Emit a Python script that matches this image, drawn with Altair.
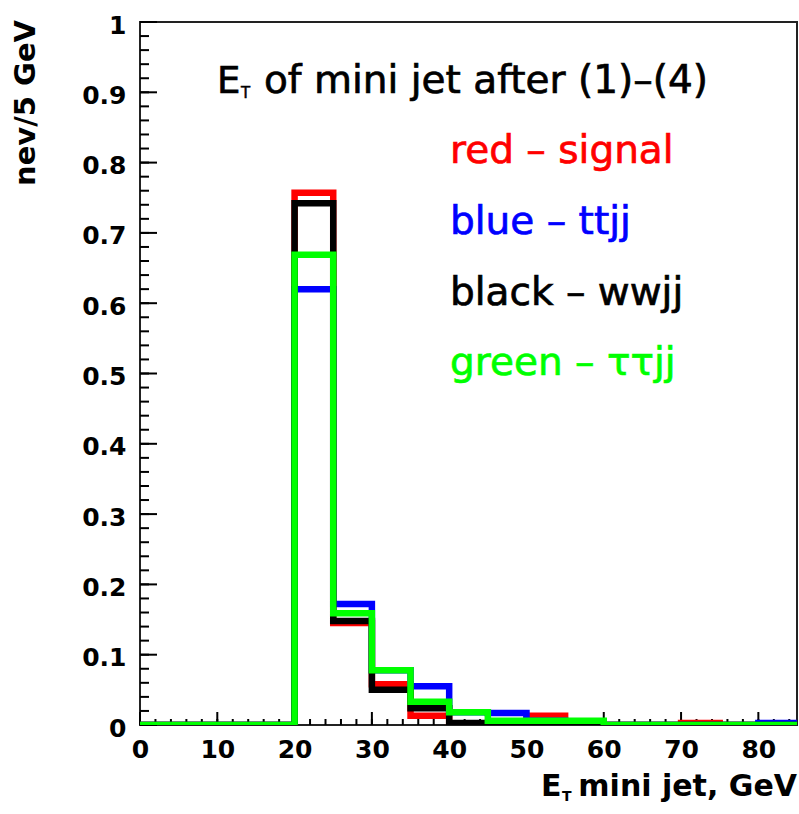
import altair as alt
import pandas as pd

# Histogram bins: 5 GeV wide, left edges 0..80 plus the closing edge at 85
bin_edges = [0, 5, 10, 15, 20, 25, 30, 35, 40, 45, 50, 55, 60, 65, 70, 75, 80, 85]

# Normalised event counts per bin
signal = [0, 0, 0, 0, 0.757, 0.145, 0.058, 0.013, 0.002, 0.003, 0.013, 0, 0, 0, 0.003, 0, 0]
ttjj = [0, 0, 0, 0, 0.620, 0.172, 0.078, 0.055, 0.018, 0.017, 0.006, 0, 0, 0, 0, 0, 0.003]
wwjj = [0, 0, 0, 0, 0.742, 0.148, 0.050, 0.024, 0.003, 0.002, 0.001, 0.002, 0, 0, 0, 0, 0]
tautaujj = [0, 0, 0, 0, 0.669, 0.159, 0.078, 0.033, 0.018, 0.006, 0.006, 0.006, 0, 0, 0, 0, 0]

series = [("signal", signal, "#ff0000"),
          ("ttjj", ttjj, "#0000ff"),
          ("wwjj", wwjj, "#000000"),
          ("tautaujj", tautaujj, "#00ff00")]

legend_labels = ["red \u2013 signal", "blue \u2013 ttjj", "black \u2013 wwjj", "green \u2013 \u03c4\u03c4jj"]
legend_colors = ["#ff0000", "#0000ff", "#000000", "#00ff00"]

x_labels = [0, 10, 20, 30, 40, 50, 60, 70, 80]
y_labels = [0, 0.1, 0.2, 0.3, 0.4, 0.5, 0.6, 0.7, 0.8, 0.9, 1.0]
x_minor = [v for v in range(0, 86, 2)]
y_minor = [i / 50 for i in range(51)]

W, H = 657, 703
FONT = "DejaVu Sans"

x_scale = alt.Scale(domain=[0, 85], nice=False, zero=False)
y_scale = alt.Scale(domain=[0, 1], nice=False)

x_axis = alt.Axis(values=x_labels, ticks=False, domain=False, grid=False, title=None,
                  labelFont=FONT, labelFontWeight="bold", labelFontSize=25,
                  labelColor="black", labelPadding=12, labelFlush=False)
y_axis = alt.Axis(values=y_labels, ticks=False, domain=False, grid=False, title=None,
                  format="~g", labelFont=FONT, labelFontWeight="bold", labelFontSize=25,
                  labelColor="black", labelPadding=14, labelOffset=3)


def X(field):
    return alt.X(field, type="quantitative", scale=x_scale, axis=x_axis)


def Y(field):
    return alt.Y(field, type="quantitative", scale=y_scale, axis=y_axis)


layers = []

# inward tick marks on the left and bottom edges
yt_major = alt.Chart(pd.DataFrame({"v": y_labels})).mark_rule(color="black", strokeWidth=2).encode(
    y=Y("v"), x=alt.value(0), x2=alt.value(17))
yt_minor = alt.Chart(pd.DataFrame({"v": y_minor})).mark_rule(color="black", strokeWidth=2).encode(
    y=Y("v"), x=alt.value(0), x2=alt.value(9))
xt_major = alt.Chart(pd.DataFrame({"v": x_labels})).mark_rule(color="black", strokeWidth=2).encode(
    x=X("v"), y=alt.value(H), y2=alt.value(H - 13))
xt_minor = alt.Chart(pd.DataFrame({"v": x_minor})).mark_rule(color="black", strokeWidth=2).encode(
    x=X("v"), y=alt.value(H), y2=alt.value(H - 6))
layers += [yt_major, yt_minor, xt_major, xt_minor]

# step outlines of the four histograms
for name, vals, col in series:
    df = pd.DataFrame({"x": bin_edges, "y": vals + [vals[-1]]})
    layers.append(
        alt.Chart(df).mark_line(interpolate="step-after", strokeWidth=6.5, clip=True,
                                color=col, strokeCap="butt", strokeJoin="miter")
        .encode(x=X("x"), y=Y("y"))
    )

# title inside the frame: E_T of mini jet after (1)-(4)
title_main = alt.Chart(pd.DataFrame({"t": ["E"]})).mark_text(
    font=FONT, fontSize=37, align="left", baseline="alphabetic", color="black",
    stroke="black", strokeWidth=0.7).encode(
    text="t:N", x=alt.value(77), y=alt.value(71))
title_sub = alt.Chart(pd.DataFrame({"t": ["T"]})).mark_text(
    font=FONT, fontSize=15, align="left", baseline="alphabetic", color="black",
    stroke="black", strokeWidth=0.5).encode(
    text="t:N", x=alt.value(101), y=alt.value(76))
title_rest = alt.Chart(pd.DataFrame({"t": ["of mini jet after (1)\u2013(4)"]})).mark_text(
    font=FONT, fontSize=39, align="left", baseline="alphabetic", color="black",
    stroke="black", strokeWidth=0.7).encode(
    text="t:N", x=alt.value(124), y=alt.value(71))
layers += [title_main, title_sub, title_rest]

# coloured key text
legend_df = pd.DataFrame({"t": legend_labels, "c": legend_colors, "yy": [141, 212, 283, 353]})
legend = alt.Chart(legend_df).mark_text(
    font=FONT, fontSize=39, align="left", baseline="alphabetic", strokeWidth=0.7).encode(
    text="t:N", x=alt.value(310), y=alt.Y("yy:Q", scale=None, axis=None),
    color=alt.Color("c:N", scale=None), stroke=alt.Stroke("c:N", scale=None))
layers.append(legend)

# axis titles
ytitle = alt.Chart(pd.DataFrame({"t": ["nev/5 GeV"]})).mark_text(
    font=FONT, fontSize=29, fontWeight="bold", angle=270, align="right", baseline="middle",
    color="black").encode(text="t:N", x=alt.value(-114), y=alt.value(-2))
xtitle_e = alt.Chart(pd.DataFrame({"t": ["E"]})).mark_text(
    font=FONT, fontSize=30, fontWeight="bold", align="left", baseline="alphabetic",
    color="black").encode(text="t:N", x=alt.value(401), y=alt.value(H + 71))
xtitle_t = alt.Chart(pd.DataFrame({"t": ["T"]})).mark_text(
    font=FONT, fontSize=14, fontWeight="bold", align="left", baseline="alphabetic",
    color="black").encode(text="t:N", x=alt.value(422), y=alt.value(H + 76))
xtitle_rest = alt.Chart(pd.DataFrame({"t": ["mini jet, GeV"]})).mark_text(
    font=FONT, fontSize=30, fontWeight="bold", align="right", baseline="alphabetic",
    color="black").encode(text="t:N", x=alt.value(W), y=alt.value(H + 71))
layers += [ytitle, xtitle_e, xtitle_t, xtitle_rest]

chart = alt.layer(*layers).properties(
    width=W, height=H,
    autosize=alt.AutoSizeParams(type="none"),
    padding={"left": 140, "top": 22, "right": 2, "bottom": 89},
    background="white",
).configure_view(stroke="#222222", strokeWidth=2)

chart.save("out.html", embed_options={"renderer": "svg", "actions": False})
